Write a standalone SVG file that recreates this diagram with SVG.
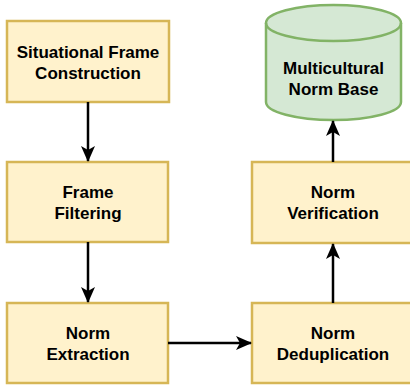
<svg xmlns="http://www.w3.org/2000/svg" width="410" height="387" viewBox="0 0 410 387">
<style>
.box{fill:#fff2cc;stroke:#d6b656;stroke-width:2.5}
.cyl{fill:#d5e8d4;stroke:#82b366;stroke-width:2.5}
.lbl{font-family:"Liberation Sans",Arial,sans-serif;font-weight:bold;font-size:17px;fill:#000;text-anchor:middle}
.edge{stroke:#000;stroke-width:2.5;fill:none;marker-end:url(#arr)}
</style>
<defs>
<marker id="arr" viewBox="0 0 16 16" refX="15" refY="8" markerWidth="16" markerHeight="16" orient="auto" markerUnits="userSpaceOnUse">
<path d="M0,1 L16,8 L0,15 L4,8 Z" fill="#000"/>
</marker>
</defs>
<rect width="410" height="387" fill="#fff"/>
<g id="n1"><rect class="box" x="7" y="21" width="162" height="81"/>
<text class="lbl" x="88" y="57.5">Situational Frame</text><text class="lbl" x="88" y="78.5">Construction</text></g>
<g id="n2"><rect class="box" x="7" y="162" width="161" height="80"/>
<text class="lbl" x="88" y="198">Frame</text><text class="lbl" x="88" y="219">Filtering</text></g>
<g id="n3"><rect class="box" x="7" y="303" width="161" height="80"/>
<text class="lbl" x="88" y="339">Norm</text><text class="lbl" x="88" y="360">Extraction</text></g>
<g id="n4"><rect class="box" x="252" y="303" width="162" height="80"/>
<text class="lbl" x="333" y="339">Norm</text><text class="lbl" x="333" y="360">Deduplication</text></g>
<g id="n5"><rect class="box" x="252" y="162" width="162" height="81"/>
<text class="lbl" x="333" y="198">Norm</text><text class="lbl" x="333" y="219">Verification</text></g>
<g id="n6"><path class="cyl" d="M266,23 A67.5,18 0 0 1 401,23 L401,102 A67.5,18 0 0 1 266,102 Z"/>
<path class="cyl" style="fill:none" d="M266,23 A67.5,18 0 0 0 401,23"/>
<text class="lbl" x="333.5" y="74">Multicultural</text><text class="lbl" x="333.5" y="95">Norm Base</text></g>
<g id="edges">
<path class="edge" d="M88,102 L88,161"/>
<path class="edge" d="M88,242 L88,302"/>
<path class="edge" d="M168,343 L251,343"/>
<path class="edge" d="M333,303 L333,244"/>
<path class="edge" d="M333,162 L333,121"/>
</g>
</svg>
